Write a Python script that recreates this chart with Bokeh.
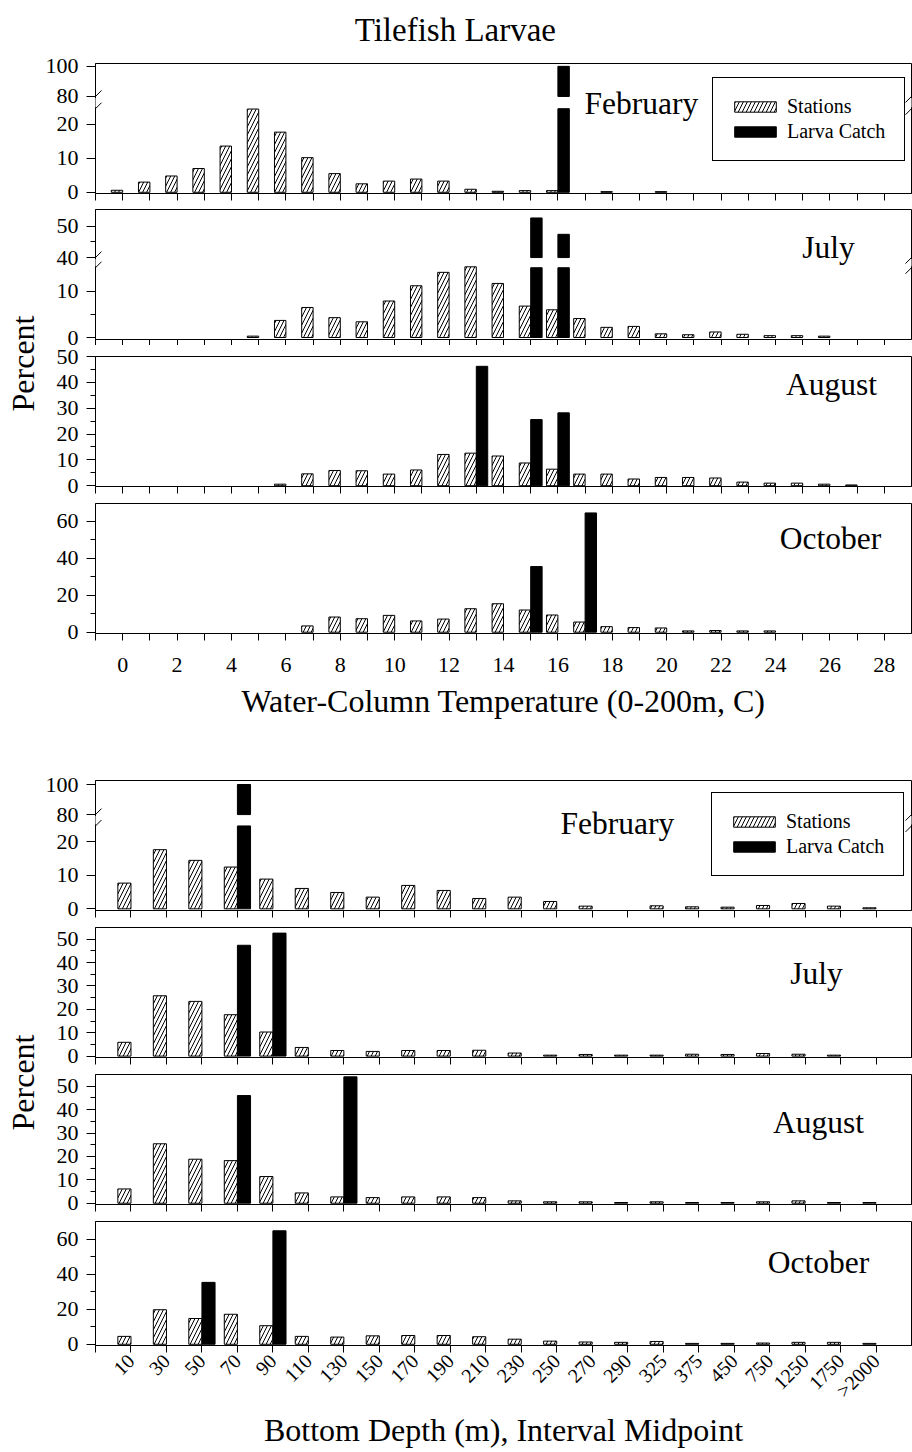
import math
from bokeh.plotting import figure
from bokeh.models import (Range1d, FixedTicker, Label, Legend, LegendItem, Arrow,
                          ColumnDataSource, CustomLabelingPolicy)
from bokeh.layouts import column, row
from bokeh.embed import file_html
from bokeh.resources import INLINE

FONT = "Liberation Serif"

# ---------------- data ----------------
temperatures = [0, 1, 2, 3, 4, 5, 6, 7, 8, 9, 10, 11, 12, 13, 14, 15, 16, 17, 18, 19,
                20, 21, 22, 23, 24, 25, 26, 27, 28]
temp_tick_labels = ["0", "2", "4", "6", "8", "10", "12", "14", "16", "18", "20",
                    "22", "24", "26", "28"]

temp_feb_stations = [0.6, 3.0, 4.8, 7.0, 13.6, 24.5, 17.7, 10.2, 5.5, 2.5, 3.3, 3.9, 3.3,
                     0.9, 0.3, 0.5, 0.5, 0.0, 0.2, 0.0, 0.2, 0, 0, 0, 0, 0, 0, 0, 0]
temp_feb_larva = [0, 0, 0, 0, 0, 0, 0, 0, 0, 0, 0, 0, 0, 0, 0, 0, 100.0, 0, 0, 0, 0,
                  0, 0, 0, 0, 0, 0, 0, 0]

temp_jul_stations = [0, 0, 0, 0, 0, 0.3, 3.7, 6.5, 4.3, 3.4, 7.9, 11.2, 14.1, 15.3, 11.7,
                     6.8, 6.0, 4.1, 2.2, 2.4, 0.8, 0.6, 1.2, 0.7, 0.4, 0.4, 0.3, 0, 0]
temp_jul_larva = [0, 0, 0, 0, 0, 0, 0, 0, 0, 0, 0, 0, 0, 0, 0, 52.6, 47.4, 0, 0, 0, 0,
                  0, 0, 0, 0, 0, 0, 0, 0]

temp_aug_stations = [0, 0, 0, 0, 0, 0, 0.6, 4.6, 5.9, 5.8, 4.5, 6.1, 12.1, 12.6, 11.5,
                     8.8, 6.4, 4.5, 4.5, 2.6, 3.2, 3.2, 3.0, 1.4, 1.0, 1.0, 0.6, 0.3, 0]
temp_aug_larva = [0, 0, 0, 0, 0, 0, 0, 0, 0, 0, 0, 0, 0, 46.2, 0, 25.6, 28.2, 0, 0, 0, 0,
                  0, 0, 0, 0, 0, 0, 0, 0]

temp_oct_stations = [0, 0, 0, 0, 0, 0, 0, 3.4, 8.2, 7.3, 9.1, 6.1, 7.1, 12.7, 15.4, 12.0,
                     9.3, 5.5, 3.0, 2.5, 2.3, 0.7, 0.9, 0.7, 0.7, 0, 0, 0, 0]
temp_oct_larva = [0, 0, 0, 0, 0, 0, 0, 0, 0, 0, 0, 0, 0, 0, 0, 35.5, 0, 64.5, 0, 0, 0,
                  0, 0, 0, 0, 0, 0, 0, 0]

depth_categories = ["10", "30", "50", "70", "90", "110", "130", "150", "170", "190",
                    "210", "230", "250", "270", "290", "325", "375", "450", "750",
                    "1250", "1750", ">2000"]

depth_feb_stations = [7.7, 17.7, 14.5, 12.5, 8.9, 6.1, 4.9, 3.5, 7.0, 5.5, 3.1, 3.5, 2.2,
                      0.8, 0.0, 0.9, 0.6, 0.5, 1.0, 1.6, 0.8, 0.3]
depth_feb_larva = [0, 0, 0, 100.0, 0, 0, 0, 0, 0, 0, 0, 0, 0, 0, 0, 0, 0, 0, 0, 0, 0, 0]

depth_jul_stations = [5.9, 25.8, 23.4, 17.7, 10.3, 3.7, 2.4, 2.0, 2.4, 2.4, 2.5, 1.3, 0.4,
                      0.7, 0.4, 0.4, 0.8, 0.7, 1.1, 0.8, 0.4, 0.0]
depth_jul_larva = [0, 0, 0, 47.4, 52.6, 0, 0, 0, 0, 0, 0, 0, 0, 0, 0, 0, 0, 0, 0, 0, 0, 0]

depth_aug_stations = [6.1, 25.4, 18.8, 18.2, 11.4, 4.4, 2.7, 2.4, 2.7, 2.7, 2.4, 1.0, 0.6,
                      0.6, 0.3, 0.6, 0.3, 0.3, 0.6, 1.0, 0.3, 0.3]
depth_aug_larva = [0, 0, 0, 46.0, 0, 0, 54.0, 0, 0, 0, 0, 0, 0, 0, 0, 0, 0, 0, 0, 0, 0, 0]

depth_oct_stations = [4.5, 19.7, 14.7, 17.1, 10.6, 4.5, 4.1, 4.8, 5.0, 5.0, 4.3, 2.9, 1.8,
                      1.3, 1.1, 1.6, 0.5, 0.5, 0.7, 1.1, 1.1, 0.5]
depth_oct_larva = [0, 0, 35.3, 0, 64.7, 0, 0, 0, 0, 0, 0, 0, 0, 0, 0, 0, 0, 0, 0, 0, 0, 0]

# ---------------- layout constants ----------------
SIDE_W = 41
FIG_W = 871
FRAME_H = 130
BORDER_L = 54
TEMP_XR = (-1, 29)
DEPTH_XR = (-1, 22)
TEMP_W = 0.42
DEPTH_W = 0.37

HIDE_ALL = "for (const i of indices) { indices.unset(i) }\nreturn indices"
HIDE_EVEN_INDEX = "for (const i of indices) { if (i % 2 == 0) indices.unset(i) }\nreturn indices"
HIDE_FIRST = "for (const i of indices) { if (i == 0) indices.unset(i) }\nreturn indices"


def make_tf(brk):
    if brk is None:
        return lambda v: v
    return lambda v: v if v < brk["base"] else brk["base_d"] + (v - brk["base"]) * brk["scale"]


def build_panel(xr, xpos, stations, larva, bar_w, yr, y_values, y_minor, brk,
                month, month_x, month_y, top_b, bottom_b, x_ticks, x_overrides,
                label_policy=HIDE_ALL, legend_loc=None, x_tick_out=7):
    tf = make_tf(brk)
    p = figure(width=FIG_W, height=top_b + FRAME_H + bottom_b,
               x_range=Range1d(*xr), y_range=Range1d(*yr),
               toolbar_location=None, output_backend="svg", title=None,
               min_border_left=BORDER_L, min_border_right=1,
               min_border_top=top_b, min_border_bottom=bottom_b)
    p.grid.visible = False
    p.outline_line_color = "black"
    p.outline_line_alpha = 1.0
    p.outline_line_width = 1
    p.background_fill_color = "white"
    p.border_fill_color = "white"

    # stations (hatched)
    sx = [x - bar_w / 2 for x, v in zip(xpos, stations) if v > 0]
    stop = [tf(v) for v in stations if v > 0]
    r_st = p.vbar(x=sx, top=stop, bottom=0, width=bar_w, fill_color="white",
                  line_color="black", line_width=1, hatch_pattern="/",
                  hatch_color="black", hatch_scale=8, hatch_weight=1)

    # larva catch (solid black, split at the axis break)
    lx, lb, lt = [], [], []
    for x, v in zip(xpos, larva):
        if v <= 0:
            continue
        if brk is not None and v >= brk["base"]:
            lx += [x + bar_w / 2, x + bar_w / 2]
            lb += [0, brk["hi"]]
            lt += [brk["lo"], tf(v)]
        else:
            lx.append(x + bar_w / 2)
            lb.append(0)
            lt.append(tf(v))
    src = ColumnDataSource(dict(x=lx, bottom=lb, top=lt))
    r_lv = p.vbar(x="x", top="top", bottom="bottom", width=bar_w, source=src,
                  fill_color="black", line_color="black", line_width=1)

    # x axis
    xa = p.xaxis[0]
    xa.ticker = FixedTicker(ticks=x_ticks, minor_ticks=[])
    xa.major_label_overrides = x_overrides
    xa.major_label_policy = CustomLabelingPolicy(code=label_policy)
    xa.major_tick_out = x_tick_out
    xa.major_tick_in = 0
    xa.minor_tick_out = 0
    xa.minor_tick_in = 0
    xa.axis_line_color = "black"
    xa.major_tick_line_color = "black"
    xa.major_label_text_font = FONT
    xa.major_label_text_color = "black"
    if label_policy == HIDE_ALL:
        xa.major_label_text_font_size = "0px"
        xa.major_label_standoff = 0

    # y axis (ticks positioned in display units, labelled in data units)
    ya = p.yaxis[0]
    ticks = [round(tf(v), 2) for v in y_values]
    minors = [round(tf(v), 2) for v in y_minor]
    ya.ticker = FixedTicker(ticks=ticks, minor_ticks=minors)
    ya.major_label_overrides = {t: str(v) for t, v in zip(ticks, y_values)}
    ya.major_tick_out = 9
    ya.major_tick_in = 0
    ya.minor_tick_out = 5
    ya.minor_tick_in = 0
    ya.axis_line_color = "black"
    ya.major_tick_line_color = "black"
    ya.minor_tick_line_color = "black"
    ya.major_label_text_font = FONT
    ya.major_label_text_font_size = "22px"
    ya.major_label_text_color = "black"
    ya.major_label_standoff = 8

    # axis breaks
    if brk is not None:
        ppx = (FIG_W - BORDER_L - 1) / (xr[1] - xr[0])
        ppy = FRAME_H / (yr[1] - yr[0])
        dx, dy = 6 / ppx, 6 / ppy
        for xe in (xr[0], xr[1]):
            p.add_layout(Arrow(end=None, x_start=xe, y_start=brk["lo"] + 1.5 / ppy,
                               x_end=xe, y_end=brk["hi"] - 1.5 / ppy,
                               line_color="white", line_width=4))
            for e in (brk["lo"], brk["hi"]):
                p.add_layout(Arrow(end=None, x_start=xe - dx, y_start=e - dy,
                                   x_end=xe + dx, y_end=e + dy,
                                   line_color="black", line_width=1))

    p.add_layout(Label(x=month_x, y=month_y, text=month, text_font=FONT,
                       text_font_size="31.5px", text_align="center",
                       text_baseline="middle", text_color="black"))

    if legend_loc is not None:
        leg = Legend(items=[LegendItem(label="Stations", renderers=[r_st]),
                            LegendItem(label="Larva Catch", renderers=[r_lv])],
                     location=legend_loc, orientation="vertical",
                     border_line_color="black", border_line_width=1, border_line_alpha=1,
                     background_fill_color="white", background_fill_alpha=1,
                     label_text_font=FONT, label_text_font_size="20px",
                     label_text_color="black",
                     glyph_width=52, glyph_height=13, label_height=25, label_width=101,
                     label_standoff=6, padding=16, spacing=0, margin=0)
        p.add_layout(leg)
    return p


def blank_figure(w, h):
    f = figure(width=w, height=h, x_range=Range1d(0, 1), y_range=Range1d(0, 1),
               toolbar_location=None, output_backend="svg", title=None, min_border=0,
               x_axis_location=None, y_axis_location=None)
    f.grid.visible = False
    f.outline_line_color = None
    return f


temp_ticks = [-1] + temperatures
temp_x_over = {t: str(t) for t in temp_ticks}
depth_pos = list(range(len(depth_categories)))
depth_ticks = [-1] + depth_pos
depth_x_over = {-1: ""}
for i, c in zip(depth_pos, depth_categories):
    depth_x_over[i] = c

brk_tfeb = dict(base=80, base_d=28.2, scale=0.443, lo=24.6, hi=28.2)
brk_tjul = dict(base=40, base_d=17.3, scale=0.68, lo=15.1, hi=17.3)
brk_dfeb = dict(base=80, base_d=28.2, scale=0.45, lo=24.8, hi=28.2)

HEADER_H = 53
header = blank_figure(FIG_W, HEADER_H)
header.add_layout(Label(x=0.441, y=1 - 29.5 / HEADER_H,
                        text="Tilefish Larvae", text_font=FONT, text_font_size="33px",
                        text_align="center", text_baseline="middle",
                        text_color="black"))

t_feb = build_panel(TEMP_XR, temperatures, temp_feb_stations, temp_feb_larva, TEMP_W,
                    (-0.35, 37.9), [0, 10, 20, 80, 100], [], brk_tfeb,
                    "February", 19.07, 26.04, 10, 15, temp_ticks, temp_x_over,
                    legend_loc=(617, 32))

t_jul = build_panel(TEMP_XR, temperatures, temp_jul_stations, temp_jul_larva, TEMP_W,
                    (-0.43, 27.7), [0, 10, 40, 50], [5, 45], brk_tjul,
                    "July", 25.95, 19.37, 1, 6, temp_ticks, temp_x_over, x_tick_out=6)

t_aug = build_panel(TEMP_XR, temperatures, temp_aug_stations, temp_aug_larva, TEMP_W,
                    (-0.3, 50), [0, 10, 20, 30, 40, 50], [5, 15, 25, 35, 45], None,
                    "August", 26.06, 39.1, 11, 16, temp_ticks, temp_x_over)

t_oct = build_panel(TEMP_XR, temperatures, temp_oct_stations, temp_oct_larva, TEMP_W,
                    (-0.7, 69.6), [0, 20, 40, 60], [10, 30, 50], None,
                    "October", 26.02, 50.79, 1, 136, temp_ticks, temp_x_over,
                    label_policy=HIDE_EVEN_INDEX)
xa = t_oct.xaxis[0]
xa.major_label_text_font_size = "22px"
xa.major_label_standoff = 17
xa.axis_label = "Water-Column Temperature (0-200m, C)"
xa.axis_label_text_font = FONT
xa.axis_label_text_font_size = "32px"
xa.axis_label_text_font_style = "normal"
xa.axis_label_text_color = "black"
xa.axis_label_standoff = 8

d_feb = build_panel(DEPTH_XR, depth_pos, depth_feb_stations, depth_feb_larva, DEPTH_W,
                    (-0.5, 38.4), [0, 10, 20, 80, 100], [], brk_dfeb,
                    "February", 13.71, 25.41, 11, 16, depth_ticks, depth_x_over,
                    legend_loc=(616, 34))

d_jul = build_panel(DEPTH_XR, depth_pos, depth_jul_stations, depth_jul_larva, DEPTH_W,
                    (-0.6, 55), [0, 10, 20, 30, 40, 50], [5, 15, 25, 35, 45], None,
                    "July", 19.32, 35.5, 1, 16, depth_ticks, depth_x_over)

d_aug = build_panel(DEPTH_XR, depth_pos, depth_aug_stations, depth_aug_larva, DEPTH_W,
                    (-0.55, 55), [0, 10, 20, 30, 40, 50], [5, 15, 25, 35, 45], None,
                    "August", 19.38, 34.62, 1, 16, depth_ticks, depth_x_over)

d_oct = build_panel(DEPTH_XR, depth_pos, depth_oct_stations, depth_oct_larva, DEPTH_W,
                    (-0.7, 70), [0, 20, 40, 60], [10, 30, 50], None,
                    "October", 19.38, 46.61, 1, 100, depth_ticks, depth_x_over,
                    label_policy=HIDE_FIRST)
xa = d_oct.xaxis[0]
xa.major_label_text_font_size = "20px"
xa.major_label_standoff = 5
xa.major_label_orientation = math.pi / 4
xa.axis_label = "Bottom Depth (m), Interval Midpoint"
xa.axis_label_text_font = FONT
xa.axis_label_text_font_size = "32px"
xa.axis_label_text_font_style = "normal"
xa.axis_label_text_color = "black"
xa.axis_label_standoff = 0

stack = [header, t_feb, t_jul, t_aug, t_oct, d_feb, d_jul, d_aug, d_oct]
total_h = sum(f.height for f in stack)

side = blank_figure(SIDE_W, total_h)
for yc in (363, 1082):
    side.add_layout(Label(x=22.5 / SIDE_W, y=1 - yc / total_h, text="Percent",
                          text_font=FONT, text_font_size="32px", text_align="center",
                          text_baseline="middle", angle=math.pi / 2, text_color="black"))

layout = row(side, column(*stack, spacing=0), spacing=0)

with open("out.html", "w") as f:
    f.write(file_html(layout, INLINE, title="Tilefish Larvae"))
